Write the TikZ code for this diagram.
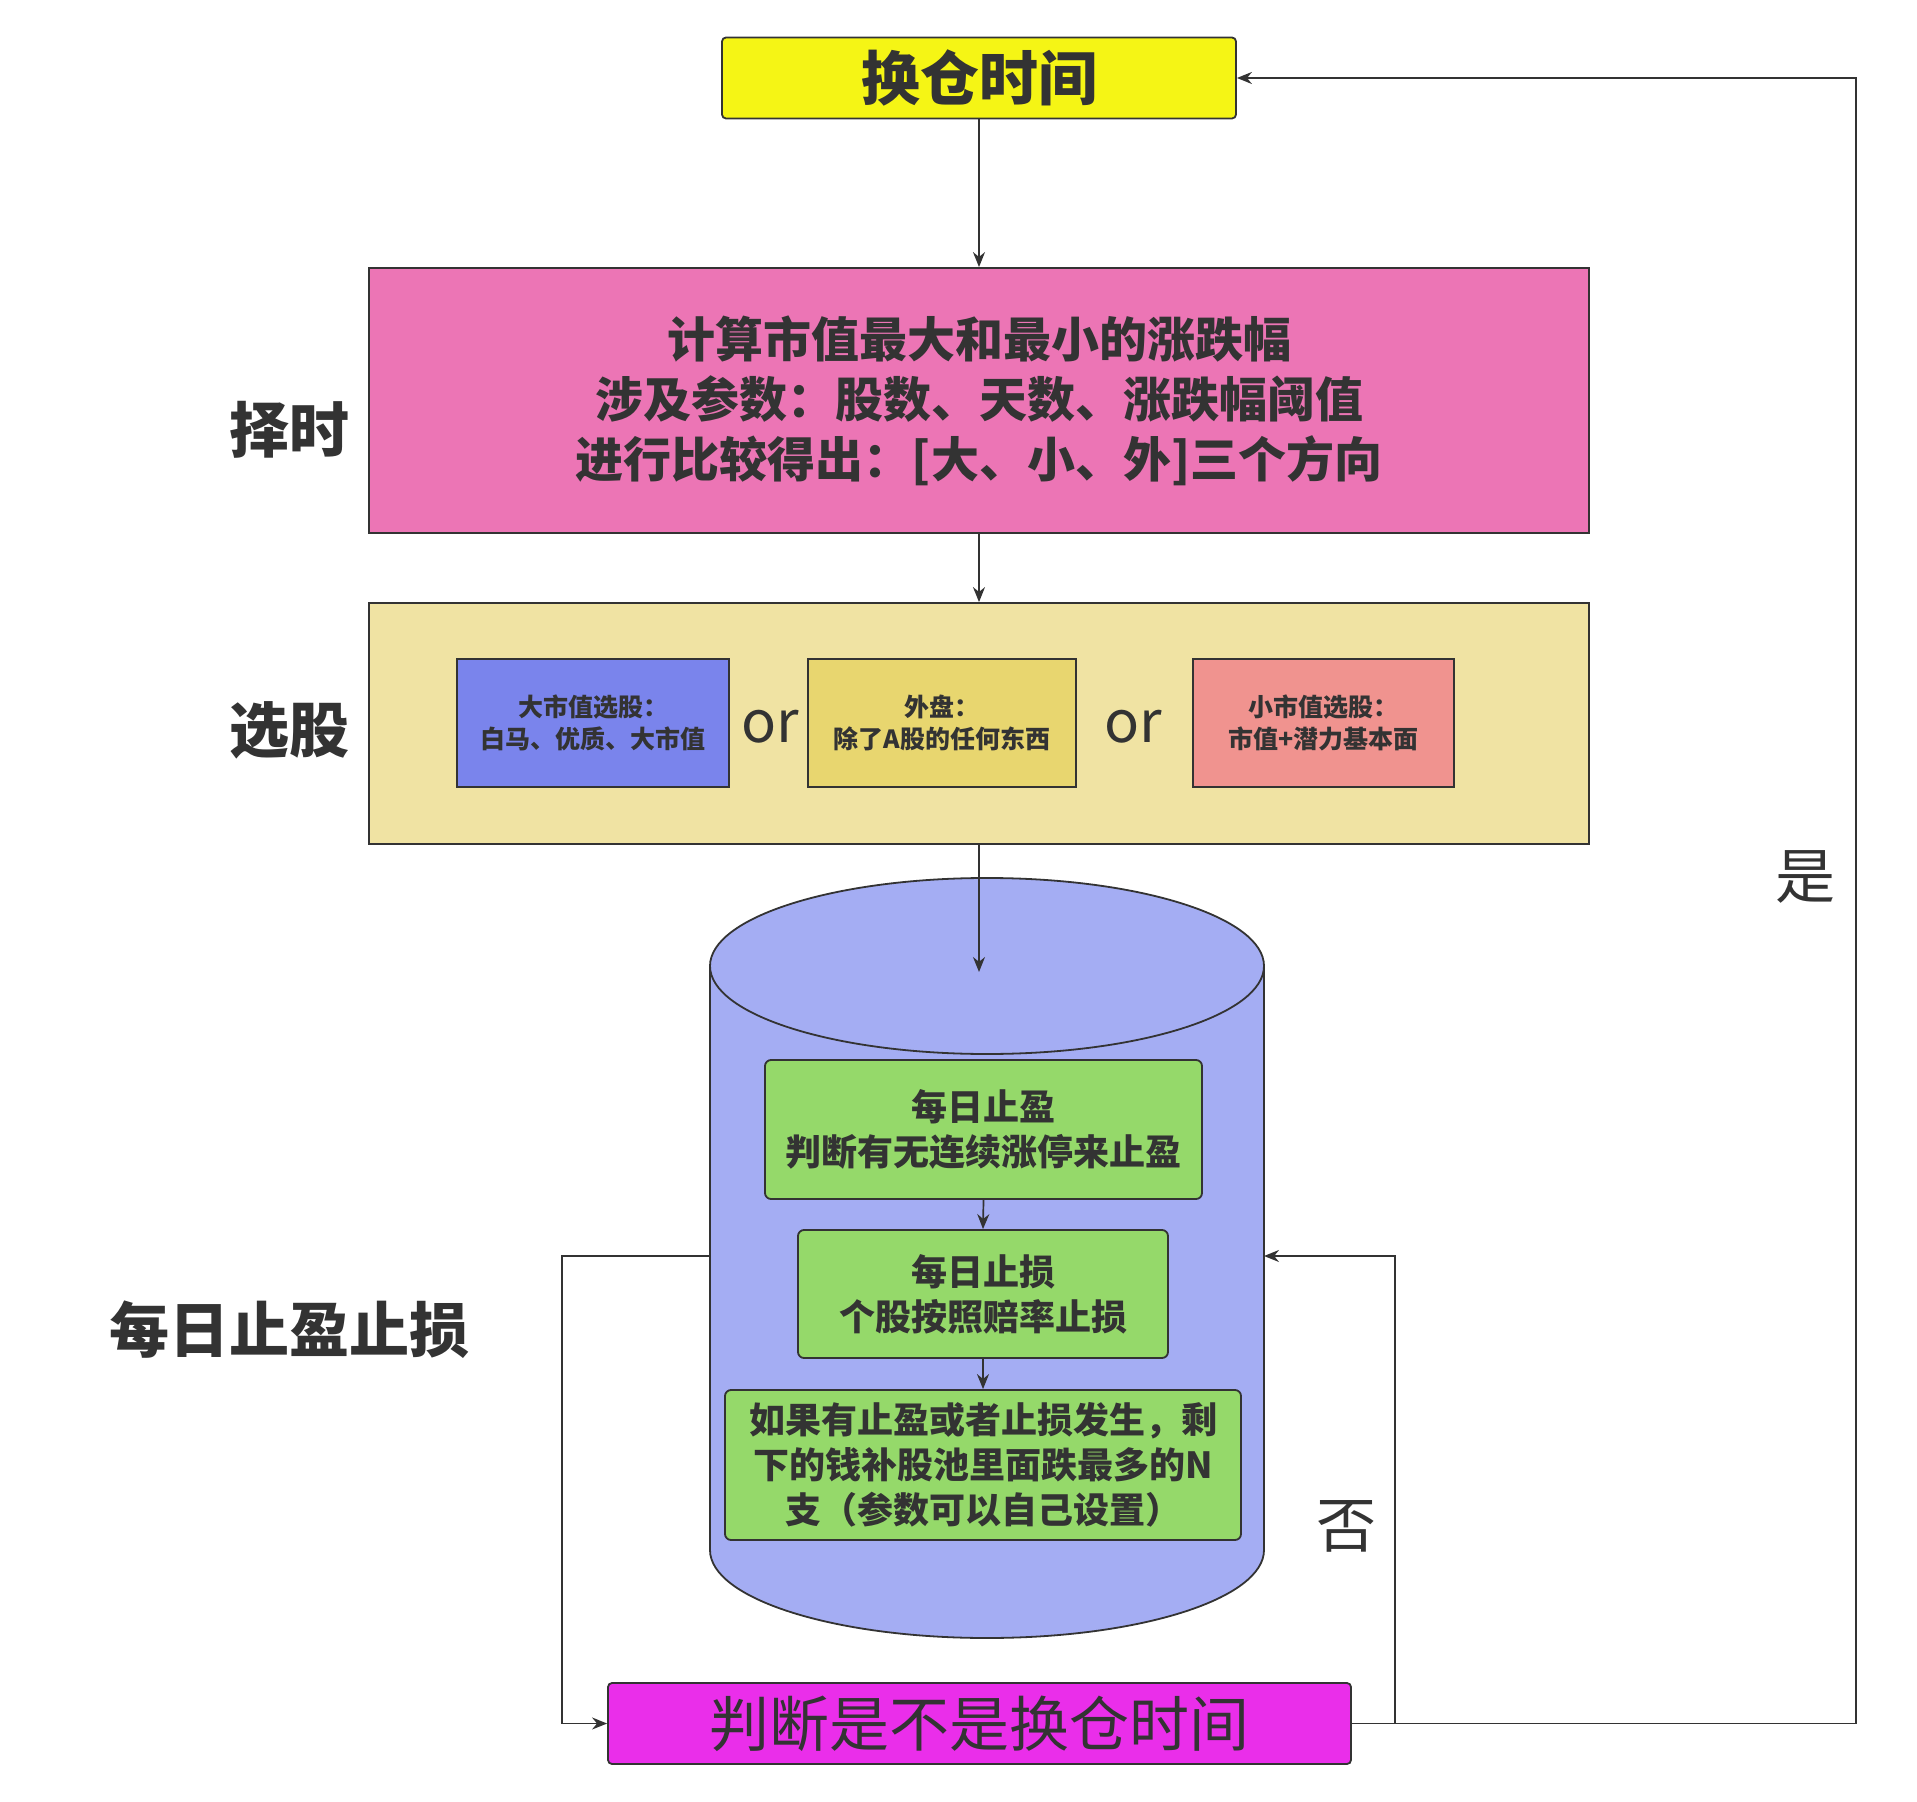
\documentclass[tikz,border=0pt]{standalone}
\usepackage{fontspec}
\setmainfont{Noto Sans CJK SC}
\usetikzlibrary{arrows.meta,positioning}

\definecolor{ink}{HTML}{333333}
\definecolor{swapcol}{HTML}{F5F515}
\definecolor{timecol}{HTML}{EC75B5}
\definecolor{pickcol}{HTML}{F0E3A3}
\definecolor{bigcol}{HTML}{7A84EC}
\definecolor{outcol}{HTML}{E8D66F}
\definecolor{smallcol}{HTML}{F0938F}
\definecolor{cylcol}{HTML}{A4ADF3}
\definecolor{stopcol}{HTML}{95D96A}
\definecolor{checkcol}{HTML}{EA2EEA}

\begin{document}
\begin{tikzpicture}[x=0.5pt,y=-0.5pt,>={Stealth[length=7.5pt,width=6pt]},
  link/.style={draw=ink,line width=0.85pt},
  box/.style={draw=ink,line width=0.9pt,text=ink,align=center,inner sep=0pt},
  pickbox/.style={box,minimum height=64pt,font=\fontsize{12.5}{16}\selectfont\bfseries},
  stopbox/.style={box,fill=stopcol,rounded corners=3pt,font=\fontsize{18}{22.5}\selectfont\bfseries},
  side/.style={text=ink,font=\fontsize{30}{36}\selectfont\bfseries},
  flag/.style={text=ink,font=\fontsize{30}{36}\selectfont}]
\useasboundingbox (0,0) rectangle (1917,1802);

% top and the two stages
\node[box,fill=swapcol,rounded corners=2pt,minimum width=257pt,minimum height=40.5pt,
  font=\fontsize{29.5}{34}\selectfont\bfseries] (swap) at (979,78) {换仓时间};
\node[box,fill=timecol,minimum width=610pt,minimum height=132.5pt,
  font=\fontsize{24}{30}\selectfont\bfseries] (timing) at (979,400.5)
  {计算市值最大和最小的涨跌幅\\涉及参数：股数、天数、涨跌幅阈值\\进行比较得出：[大、小、外]三个方向};
\node[box,fill=pickcol,minimum width=610pt,minimum height=120.5pt] (select) at (979,723.5) {};
\node[pickbox,fill=bigcol,minimum width=136pt] (big) at (593,723) {大市值选股：\\白马、优质、大市值};
\node[pickbox,fill=outcol,minimum width=134pt] (out) at (942,723) {外盘：\\除了A股的任何东西};
\node[pickbox,fill=smallcol,minimum width=130.5pt] (small) at (1323.5,723) {小市值选股：\\市值+潜力基本面};
\node[text=ink,font=\fontsize{29}{32}\selectfont] (or1) at (770,727) {or};
\node[text=ink,font=\fontsize{29}{32}\selectfont] (or2) at (1133,727) {or};

% side labels
\node[side] (lbltime) at (289,430) {择时};
\node[side] (lblpick) at (289,730) {选股};
\node[side] (lblstop) at (289,1330) {每日止盈止损};

% cylinder
\fill[cylcol,draw=ink,line width=0.9pt] (710,966) -- (710,1550)
  arc[start angle=180,end angle=0,x radius=277,y radius=88] -- (1264,966)
  arc[start angle=0,end angle=-180,x radius=277,y radius=88] -- cycle;
\draw[link,line width=0.9pt] (710,966) arc[start angle=180,end angle=0,x radius=277,y radius=88];
\coordinate (cylin) at (979,972);
\coordinate (cylL) at (710,1256);
\coordinate (cylR) at (1264,1256);

\node[stopbox,minimum width=218.5pt,minimum height=69.5pt] (profit) at (983.5,1129.5)
  {每日止盈\\判断有无连续涨停来止盈};
\node[stopbox,minimum width=185pt,minimum height=64pt] (loss) at (983,1294)
  {每日止损\\个股按照赔率止损};
\node[stopbox,minimum width=258pt,minimum height=75pt] (refill) at (983,1465)
  {如果有止盈或者止损发生，剩\\下的钱补股池里面跌最多的N\\支（参数可以自己设置）};

\node[box,fill=checkcol,rounded corners=2pt,minimum width=371.5pt,minimum height=40.5pt,
  font=\fontsize{30}{34}\selectfont] (check) at (979.5,1723.5) {判断是不是换仓时间};

\node[flag] (yes) at (1805,877) {是};
\node[flag] (no) at (1346,1526) {否};

% connectors
\draw[link,->] (swap.south) -- (timing.north);
\draw[link,->] (timing.south) -- (select.north);
\draw[link,->] (select.south) -- (cylin);
\draw[link,->] (profit.south) -- (loss.north);
\draw[link,->] (loss.south) -- (refill.north);
\draw[link,->] (cylL) -- (562,1256) |- (check.west);
\draw[link,->] (check.east) -| (1395,1256) -- (cylR);
\draw[link,->] (check.east) -- (1856,1723.5) |- (swap.east);
\end{tikzpicture}
\end{document}
